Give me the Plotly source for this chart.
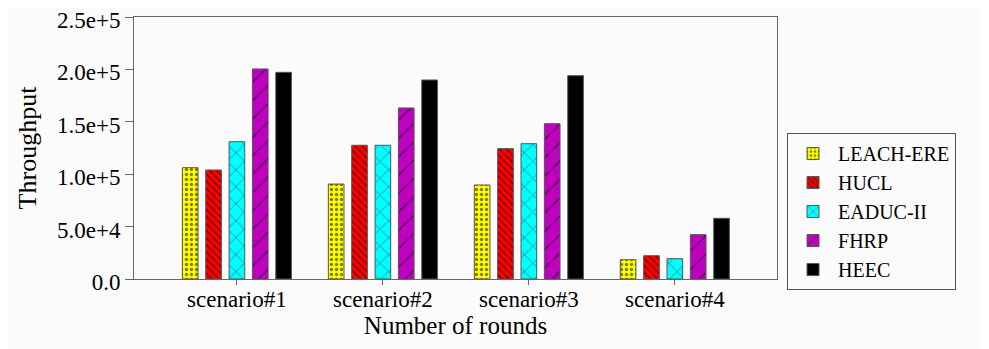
import plotly.graph_objects as go

categories = ["scenario#1", "scenario#2", "scenario#3", "scenario#4"]
leach_ere = [106200, 90600, 89700, 18400]
hucl = [104000, 127600, 124400, 22200]
eaduc_ii = [131000, 127600, 129100, 19400]
fhrp = [200400, 163200, 148200, 42300]
heec = [197200, 189900, 194000, 57900]
ytick_vals = [0, 50000, 100000, 150000, 200000, 250000]
ytick_text = ["0.0", "5.0e+4", "1.0e+5", "1.5e+5", "2.0e+5", "2.5e+5"]

series = [
    ("LEACH-ERE", leach_ere, "#ffff00", dict(shape=".", fgcolor="#000000", size=5, solidity=0.35)),
    ("HUCL", hucl, "#ff0000", dict(shape="\\", fgcolor="#000000", size=5, solidity=0.3)),
    ("EADUC-II", eaduc_ii, "#00ffff", dict(shape="x", fgcolor="#000000", size=12, solidity=0.12)),
    ("FHRP", fhrp, "#c000c0", dict(shape="/", fgcolor="#000000", size=13, solidity=0.1)),
    ("HEEC", heec, "#000000", dict(shape="")),
]

fig = go.Figure()
for name, vals, color, pat in series:
    fig.add_trace(go.Bar(
        name=name, x=categories, y=vals,
        marker=dict(color=color, line=dict(color="#555555", width=1), pattern=pat),
    ))

font_family = "Times New Roman, Liberation Serif, serif"
# page body has an 8px default margin: figure is sized/placed to compensate
fig.update_layout(
    width=981, height=341,
    margin=dict(l=126, r=212, t=9, b=70, autoexpand=False),
    paper_bgcolor="#fbfbfb", plot_bgcolor="#fbfbfb",
    barmode="group", bargap=0.2, bargroupgap=0.33,
    font=dict(family=font_family, color="#000000"),
    showlegend=True,
    legend=dict(
        x=1.0156, xanchor="left", y=0.557, yanchor="top",
        bgcolor="#fbfbfb", bordercolor="#555555", borderwidth=1,
        font=dict(family=font_family, size=20, color="#000000"),
        itemwidth=40, tracegroupgap=0,
    ),
)
fig.update_xaxes(
    range=[-0.705, 3.70], automargin=False,
    showline=True, linecolor="#666666", linewidth=1, mirror=True,
    ticks="outside", ticklen=5, tickcolor="#666666", ticklabelstandoff=-6,
    tickfont=dict(family=font_family, size=23, color="#000000"),
    title=dict(text="Number of rounds", font=dict(family=font_family, size=25, color="#000000"), standoff=3),
    showgrid=False,
)
fig.update_yaxes(
    range=[0, 250000], automargin=False, ticklabeloverflow="allow", ticklabelshift=3,
    tickvals=ytick_vals, ticktext=ytick_text,
    showline=True, linecolor="#666666", linewidth=1, mirror=True,
    ticks="outside", ticklen=8, tickcolor="#666666",
    tickfont=dict(family=font_family, size=23, color="#000000"),
    title=dict(text="Throughput", font=dict(family=font_family, size=26, color="#000000"), standoff=12),
    showgrid=False, zeroline=False,
)
fig.write_html("out.html")
